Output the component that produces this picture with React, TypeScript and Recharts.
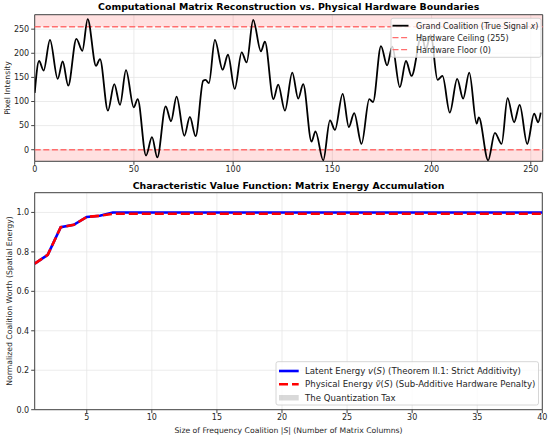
import React from 'react';
import {
  ComposedChart,
  Line,
  Area,
  XAxis,
  YAxis,
  CartesianGrid,
  ReferenceLine,
  ReferenceArea,
} from 'recharts';

const FONT = '"DejaVu Sans", sans-serif';

// ---------- Top panel: true signal ----------
const SIGNAL_X = [
  0, 2.2, 4.5, 7.7, 11.6, 14.1, 16.9, 21.0, 24.0, 26.7, 30.9, 32.9, 36.9, 40.1, 43.0, 46.0,
  49.9, 51.9, 56.1, 59.1, 61.8, 66.0, 68.7, 71.5, 75.4, 78.2, 81.1, 84.9, 86.1, 87.8, 90.8,
  94.7, 97.4, 100.8, 104.3, 106.8, 110.1, 114.0, 116.0, 120.3, 122.7, 126.1, 129.8, 132.8,
  135.3, 139.5, 141.5, 145.4, 148.8, 151.3, 155.2, 158.3, 161.0, 164.7, 168.6, 170.5, 174.5,
  177.6, 180.2, 184.0, 187.1, 189.9, 195.0, 197.0, 199.6, 203.0, 205.5, 209.2, 212.9, 215.9,
  219.0, 222.7, 223.8, 228.5, 231.9, 235.3, 238.3, 241.6, 244.4, 248.2, 251.7, 253.7, 255,
];
const SIGNAL_Y = [
  118, 184, 164, 228, 147, 183, 133, 230, 205, 271, 174, 188, 81, 136, 93, 165,
  88, 105, -12, 26, -16, 90, 59, 110, 29, 68, 28, 143, 145, 138, 228,
  166, 197, 126, 202, 181, 269, 204, 224, 105, 135, 81, 160, 106,
  136, 17, 38, -22, 61, 41, 116, 47, 76, 12, 105, 99, 215,
  175, 214, 130, 184, 153, 238, 208, 238, 145, 153, 77, 147, 106,
  160, 54, 67, -22, 35, 12, 107, 57, 93, 12, 75, 57, 77,
];
const TOP_X_TICKS = [0, 50, 100, 150, 200, 250];
const TOP_Y_TICKS = [0, 50, 100, 150, 200, 250];
const HARDWARE_CEILING = 255;
const HARDWARE_FLOOR = 0;

const signalData = SIGNAL_X.map((x, i) => ({ x, y: SIGNAL_Y[i] }));

// ---------- Bottom panel: value function ----------
const COALITION_SIZES = [
  1, 2, 3, 4, 5, 6, 7, 8, 9, 10, 11, 12, 13, 14, 15, 16, 17, 18, 19, 20,
  21, 22, 23, 24, 25, 26, 27, 28, 29, 30, 31, 32, 33, 34, 35, 36, 37, 38, 39, 40,
];
const LATENT_ENERGY = [
  0.74, 0.785, 0.925, 0.937, 0.977, 0.983, 1.0, 1.0, 1.0, 1.0, 1.0, 1.0, 1.0, 1.0, 1.0, 1.0,
  1.0, 1.0, 1.0, 1.0, 1.0, 1.0, 1.0, 1.0, 1.0, 1.0, 1.0, 1.0, 1.0, 1.0, 1.0, 1.0, 1.0, 1.0,
  1.0, 1.0, 1.0, 1.0, 1.0, 1.0,
];
const PHYSICAL_ENERGY = [
  0.74, 0.785, 0.925, 0.937, 0.977, 0.983, 0.993, 0.993, 0.993, 0.993, 0.993, 0.993, 0.993,
  0.993, 0.993, 0.993, 0.993, 0.993, 0.993, 0.993, 0.993, 0.993, 0.993, 0.993, 0.993, 0.993,
  0.993, 0.993, 0.993, 0.993, 0.993, 0.993, 0.993, 0.993, 0.993, 0.993, 0.993, 0.993, 0.993,
  0.993,
];
const BOTTOM_X_TICKS = [5, 10, 15, 20, 25, 30, 35, 40];
const BOTTOM_Y_TICKS = [0, 0.2, 0.4, 0.6, 0.8, 1.0];

const energyData = COALITION_SIZES.map((s, i) => ({
  size: s,
  latent: LATENT_ENERGY[i],
  physical: PHYSICAL_ENERGY[i],
  tax: [PHYSICAL_ENERGY[i], LATENT_ENERGY[i]],
}));

const TICK_STYLE = { fontSize: 8, fill: '#262626', fontFamily: FONT };
const SPINE = '#444444';
const GRID = '#e6e6e6';
const DASH_RED = '#ff6e6e';
const TOP_LEGEND_FS = 8.0;
const BOTTOM_LEGEND_FS = 8.6;

export default function App() {
  return (
    <div
      style={{
        position: 'absolute',
        left: 0,
        top: 0,
        width: 550,
        height: 438,
        background: '#ffffff',
        fontFamily: FONT,
      }}
    >
      <div style={{ position: 'absolute', left: 0, top: 0 }}>
        <ComposedChart
          width={550}
          height={180}
          data={signalData}
          margin={{ top: 14.7, right: 7.3, bottom: 0, left: 0 }}
        >
          <CartesianGrid stroke={GRID} strokeWidth={0.8} />
          <XAxis
            dataKey="x"
            type="number"
            domain={[0, 256]}
            ticks={TOP_X_TICKS}
            allowDataOverflow
            height={18.7}
            axisLine={false}
            tickLine={{ stroke: SPINE }}
            tickSize={3.5}
            tickMargin={1.5}
            tick={TICK_STYLE}
          />
          <YAxis
            type="number"
            domain={[-24, 280]}
            ticks={TOP_Y_TICKS}
            allowDataOverflow
            width={34.7}
            axisLine={false}
            tickLine={{ stroke: SPINE }}
            tickSize={3.5}
            tickMargin={2}
            tick={TICK_STYLE}
          />
          <ReferenceArea
            y1={HARDWARE_CEILING}
            y2={280}
            fill="#ff0000"
            fillOpacity={0.12}
            stroke="none"
            ifOverflow="hidden"
          />
          <ReferenceArea
            y1={-24}
            y2={HARDWARE_FLOOR}
            fill="#ff0000"
            fillOpacity={0.12}
            stroke="none"
            ifOverflow="hidden"
          />
          <ReferenceLine
            y={HARDWARE_CEILING}
            stroke={DASH_RED}
            strokeWidth={1.3}
            strokeDasharray="6 2.6"
          />
          <ReferenceLine
            y={HARDWARE_FLOOR}
            stroke={DASH_RED}
            strokeWidth={1.3}
            strokeDasharray="6 2.6"
          />
          <Line
            dataKey="y"
            type="monotone"
            stroke="#000000"
            strokeWidth={1.8}
            dot={false}
            isAnimationActive={false}
          />
          <ReferenceArea
            x1={0}
            x2={256}
            y1={-24}
            y2={280}
            fill="none"
            stroke={SPINE}
            strokeWidth={1}
          />
        </ComposedChart>
      </div>

      <div style={{ position: 'absolute', left: 0, top: 180 }}>
        <ComposedChart
          width={550}
          height={258}
          data={energyData}
          margin={{ top: 12.7, right: 7.7, bottom: 0, left: 0 }}
        >
          <CartesianGrid stroke={GRID} strokeWidth={0.8} />
          <XAxis
            dataKey="size"
            type="number"
            domain={[1, 40]}
            ticks={BOTTOM_X_TICKS}
            allowDataOverflow
            height={28.3}
            axisLine={false}
            tickLine={{ stroke: SPINE }}
            tickSize={3.5}
            tickMargin={1.5}
            tick={TICK_STYLE}
          />
          <YAxis
            type="number"
            domain={[0, 1.1]}
            ticks={BOTTOM_Y_TICKS}
            allowDataOverflow
            width={34.7}
            axisLine={false}
            tickLine={{ stroke: SPINE }}
            tickSize={3.5}
            tickMargin={2}
            tick={TICK_STYLE}
            tickFormatter={(v: number) => v.toFixed(1)}
          />
          <Area
            dataKey="tax"
            type="linear"
            fill="#808080"
            fillOpacity={0.3}
            stroke="none"
            isAnimationActive={false}
          />
          <Line
            dataKey="latent"
            type="linear"
            stroke="#0000ff"
            strokeWidth={2.6}
            dot={false}
            isAnimationActive={false}
          />
          <Line
            dataKey="physical"
            type="linear"
            stroke="#ff0000"
            strokeWidth={2.6}
            strokeDasharray="9 4"
            dot={false}
            isAnimationActive={false}
          />
          <ReferenceArea
            x1={1}
            x2={40}
            y1={0}
            y2={1.1}
            fill="none"
            stroke={SPINE}
            strokeWidth={1}
          />
        </ComposedChart>
      </div>

      <svg
        width={550}
        height={438}
        style={{ position: 'absolute', left: 0, top: 0, pointerEvents: 'none' }}
        fontFamily={FONT}
      >
        {/* Titles */}
        <text x={288.7} y={10.2} textAnchor="middle" fontSize={9.4} fontWeight="bold" fill="#000">
          Computational Matrix Reconstruction vs. Physical Hardware Boundaries
        </text>
        <text x={288.5} y={189.4} textAnchor="middle" fontSize={9.4} fontWeight="bold" fill="#000">
          Characteristic Value Function: Matrix Energy Accumulation
        </text>

        {/* Axis labels */}
        <text
          transform="translate(9.8,88) rotate(-90)"
          textAnchor="middle"
          fontSize={7.7}
          fill="#262626"
        >
          Pixel Intensity
        </text>
        <text
          transform="translate(11.8,301) rotate(-90)"
          textAnchor="middle"
          fontSize={7.7}
          fill="#262626"
        >
          Normalized Coalition Worth (Spatial Energy)
        </text>
        <text x={288.5} y={432.6} textAnchor="middle" fontSize={7.7} fill="#262626">
          Size of Frequency Coalition |<tspan fontStyle="italic">S</tspan>| (Number of Matrix Columns)
        </text>

        {/* Top legend */}
        <rect
          x={391}
          y={18.3}
          width={150}
          height={39}
          rx={2}
          fill="#ffffff"
          fillOpacity={0.8}
          stroke="#cccccc"
          strokeWidth={0.8}
        />
        <line x1={392.5} x2={408.5} y1={25.7} y2={25.7} stroke="#000" strokeWidth={1.8} />
        <text x={416} y={28.5} fontSize={TOP_LEGEND_FS} fill="#262626">
          Grand Coalition (True Signal <tspan fontStyle="italic">x</tspan>)
        </text>
        <line
          x1={392.5}
          x2={408.5}
          y1={37.7}
          y2={37.7}
          stroke={DASH_RED}
          strokeWidth={1.3}
          strokeDasharray="6 2.6"
        />
        <text x={416} y={40.5} fontSize={TOP_LEGEND_FS} fill="#262626">
          Hardware Ceiling (255)
        </text>
        <line
          x1={392.5}
          x2={408.5}
          y1={49.7}
          y2={49.7}
          stroke={DASH_RED}
          strokeWidth={1.3}
          strokeDasharray="6 2.6"
        />
        <text x={416} y={52.5} fontSize={TOP_LEGEND_FS} fill="#262626">
          Hardware Floor (0)
        </text>

        {/* Bottom legend */}
        <rect
          x={276}
          y={361.7}
          width={262.5}
          height={43.3}
          rx={2}
          fill="#ffffff"
          fillOpacity={0.8}
          stroke="#cccccc"
          strokeWidth={0.8}
        />
        <line x1={279} x2={298.7} y1={371} y2={371} stroke="#0000ff" strokeWidth={2.6} />
        <text x={305} y={374} fontSize={BOTTOM_LEGEND_FS} fill="#262626">
          Latent Energy <tspan fontStyle="italic">v</tspan>(<tspan fontStyle="italic">S</tspan>) (Theorem II.1: Strict Additivity)
        </text>
        <line
          x1={279}
          x2={298.7}
          y1={384.3}
          y2={384.3}
          stroke="#ff0000"
          strokeWidth={2.6}
          strokeDasharray="9 4"
        />
        <text x={305} y={387.3} fontSize={BOTTOM_LEGEND_FS} fill="#262626">
          Physical Energy <tspan fontStyle="italic">ṽ</tspan>(<tspan fontStyle="italic">S</tspan>) (Sub-Additive Hardware Penalty)
        </text>
        <rect x={279} y={395} width={19.7} height={5.5} fill="#808080" fillOpacity={0.3} />
        <text x={305} y={400.7} fontSize={BOTTOM_LEGEND_FS} fill="#262626">
          The Quantization Tax
        </text>
      </svg>
    </div>
  );
}
